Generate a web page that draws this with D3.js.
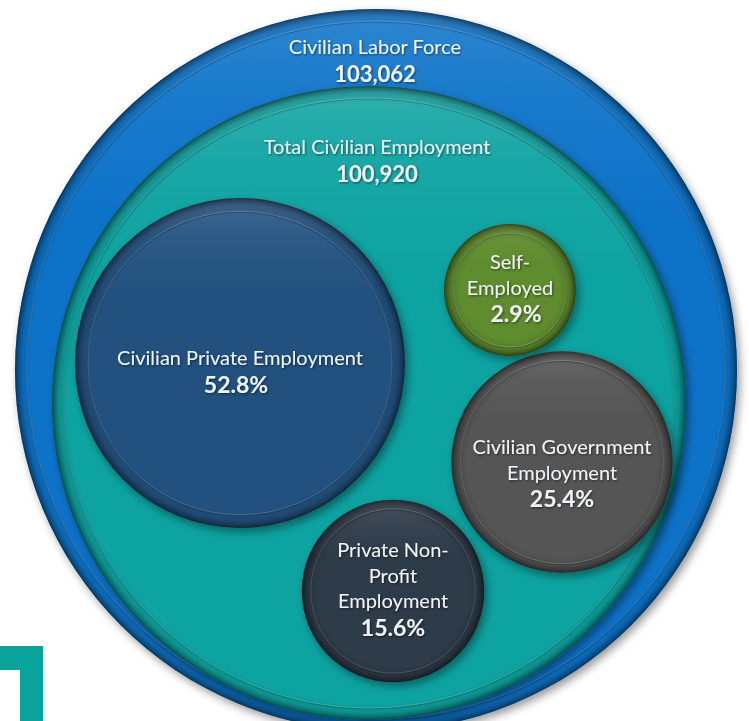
<!DOCTYPE html>
<html>
<head>
<meta charset="utf-8">
<script src="https://cdn.jsdelivr.net/npm/d3@7"></script>
<style>
  html, body { margin: 0; padding: 0; background: #ffffff; }
  svg { display: block; }
  text { font-family: Lato, "Open Sans", "Liberation Sans", sans-serif; fill: #eef3f6; }
</style>
</head>
<body>
<svg id="chart" width="749" height="721"></svg>
<script>
// ---------- data ----------
const totalLabels = ["Civilian Labor Force", "Total Civilian Employment"];
const totalValues = [103062, 100920];

const categories = ["Civilian Private Employment", "Civilian Government Employment", "Private Non-Profit Employment", "Self-Employed"];
const shares = [52.8, 25.4, 15.6, 2.9];
const labelLines = [
  ["Civilian Private Employment"],
  ["Civilian Government", "Employment"],
  ["Private Non-", "Profit", "Employment"],
  ["Self-", "Employed"]
];

// ---------- layout / style (not data) ----------
const ringLayout = [
  { cx: 376, cy: 370, r: 361, color: "#0f73c9", textX: 375, textY: 47 },
  { cx: 369, cy: 403, r: 317, color: "#0aa3a1", textX: 377, textY: 147 }
];
const bubbleLayout = [
  { cx: 240, cy: 363, color: "#24517f", textY: 358, pctDx: -4 },
  { cx: 562, cy: 462, color: "#555556", textY: 447, pctDx: 0 },
  { cx: 393, cy: 591, color: "#2f3a4a", textY: 550, pctDx: 0 },
  { cx: 510, cy: 290, color: "#5f8c2e", textY: 262, pctDx: 6 }
];

const svg = d3.select("#chart");
const defs = svg.append("defs");

// drop shadow
const sh = defs.append("filter").attr("id", "shadow").attr("x", "-20%").attr("y", "-20%").attr("width", "140%").attr("height", "140%");
sh.append("feDropShadow").attr("dx", 3).attr("dy", 4).attr("stdDeviation", 4).attr("flood-color", "#000").attr("flood-opacity", 0.4);

// text shadow
const ts = defs.append("filter").attr("id", "tshadow").attr("x", "-10%").attr("y", "-30%").attr("width", "120%").attr("height", "160%");
ts.append("feDropShadow").attr("dx", 1).attr("dy", 1.2).attr("stdDeviation", 0.8).attr("flood-color", "#000").attr("flood-opacity", 0.5);

// top highlight gradient
const hg = defs.append("linearGradient").attr("id", "hilite").attr("x1", 0).attr("y1", 0).attr("x2", 0).attr("y2", 1);
[[0, 0.14], [0.12, 0.05], [0.3, 0], [1, 0]].forEach(([o, a]) =>
  hg.append("stop").attr("offset", o).attr("stop-color", "#fff").attr("stop-opacity", a));

// bottom-left decorative bracket
svg.append("path")
  .attr("d", d3.line()([[0, 646], [43, 646], [43, 721], [20, 721], [20, 670], [0, 670]]) + "Z")
  .attr("fill", "#0aa39c");

// bubble radius scale (linear)
const rScale = d3.scaleLinear().domain([d3.min(shares), d3.max(shares)]).range([66, 165]);
const fmtInt = d3.format(",d");
const fmtPct = v => d3.format(".1f")(v) + "%";

let gid = 0;
function drawDisc(g, cx, cy, r, color, ringInset) {
  const id = "edge" + (gid++);
  const eg = defs.append("radialGradient").attr("id", id);
  [[1 - 16 / r, 0], [1 - 7 / r, 0.12], [1 - 3 / r, 0.32], [1, 0.55]].forEach(([o, a]) =>
    eg.append("stop").attr("offset", o).attr("stop-color", "#000").attr("stop-opacity", a));
  g.append("circle").attr("cx", cx).attr("cy", cy).attr("r", r)
    .attr("fill", color).attr("filter", "url(#shadow)");
  g.append("circle").attr("cx", cx).attr("cy", cy).attr("r", r).attr("fill", "url(#hilite)");
  g.append("circle").attr("cx", cx).attr("cy", cy).attr("r", r).attr("fill", "url(#" + id + ")");
  const ri = r - ringInset;
  g.append("circle").attr("cx", cx).attr("cy", cy + 1).attr("r", ri)
    .attr("fill", "none").attr("stroke", "#000").attr("stroke-opacity", 0.2).attr("stroke-width", 1.2);
  g.append("circle").attr("cx", cx).attr("cy", cy).attr("r", ri)
    .attr("fill", "none").attr("stroke", "#fff").attr("stroke-opacity", 0.18).attr("stroke-width", 1);
}

// rings (totals)
ringLayout.forEach(L => {
  const g = svg.append("g").attr("class", "ring");
  drawDisc(g, L.cx, L.cy, L.r, L.color, 12);
});

// bubbles
const bubbleData = categories.map((c, i) => ({ name: c, share: shares[i], lines: labelLines[i], L: bubbleLayout[i] }));
const bubbles = svg.selectAll("g.bubble").data(bubbleData).join("g").attr("class", "bubble");
bubbles.each(function (d) {
  const r = rScale(d.share);
  drawDisc(d3.select(this), d.L.cx, d.L.cy, r, d.L.color, Math.max(9, r * 0.08));
});

// total labels
ringLayout.forEach((L, i) => {
  const t = svg.append("g").attr("filter", "url(#tshadow)");
  t.append("text").attr("x", L.textX).attr("y", L.textY).attr("dy", "0.35em")
    .attr("text-anchor", "middle").attr("font-size", 20).text(totalLabels[i]);
  t.append("text").attr("x", L.textX).attr("y", L.textY + 27).attr("dy", "0.35em")
    .attr("text-anchor", "middle").attr("font-size", 22).attr("font-weight", "bold").text(fmtInt(totalValues[i]));
});

// bubble labels
bubbles.each(function (d) {
  const t = d3.select(this).append("g").attr("filter", "url(#tshadow)");
  d.lines.forEach((ln, j) => {
    t.append("text").attr("x", d.L.cx).attr("y", d.L.textY + j * 25.5).attr("dy", "0.35em")
      .attr("text-anchor", "middle").attr("font-size", 20).text(ln);
  });
  t.append("text").attr("x", d.L.cx + d.L.pctDx).attr("y", d.L.textY + d.lines.length * 25.5 + 1).attr("dy", "0.35em")
    .attr("text-anchor", "middle").attr("font-size", 23).attr("font-weight", "bold").text(fmtPct(d.share));
});
</script>
</body>
</html>
